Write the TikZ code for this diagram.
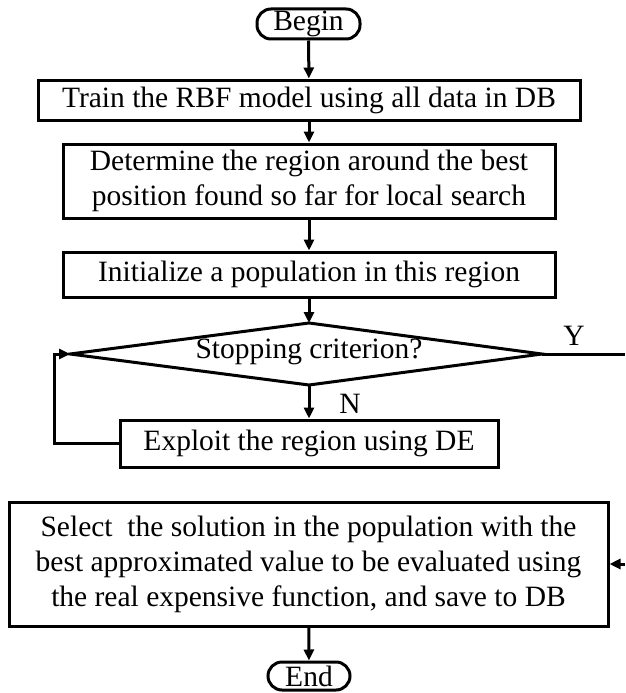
\documentclass[tikz,border=0pt]{standalone}
\usepackage{fontspec}
\setmainfont{Liberation Serif}
\usetikzlibrary{arrows.meta}
\begin{document}
\begin{tikzpicture}[x=1pt,y=-1pt,
  every node/.style={font=\fontsize{29.5}{35}\selectfont},
  box/.style={draw,line width=3pt,inner sep=0pt,align=center},
  term/.style={draw,line width=3pt,inner sep=0pt,rounded corners=14pt},
  conn/.style={line width=3pt},
  arr/.style={conn,-{Triangle[length=11pt,width=10pt]}}]
\useasboundingbox (0,0) rectangle (625,693);
\node[term,minimum width=103pt,minimum height=30pt] (begin) at (308.5,24) {Begin};
\node[box,minimum width=542pt,minimum height=40pt] (b1) at (309,100) {Train the RBF model using all data in DB};
\node[box,minimum width=492pt,minimum height=74pt] (b2) at (309,181) {Determine the region around the best\\position found so far for local search};
\node[box,minimum width=492pt,minimum height=45pt] (b3) at (309,274.5) {Initialize a population in this region};
\coordinate (dt) at (309,323);
\coordinate (dr) at (542,354);
\coordinate (db) at (309,385);
\coordinate (dl) at (70,354);
\draw[conn,line join=miter] (dt) -- (dr) -- (db) -- (dl) -- cycle;
\node (dtext) at (309,352) {Stopping criterion?};
\node (ylab) at (574,336) {Y};
\node (nlab) at (350,404) {N};
\node[box,minimum width=378pt,minimum height=47pt] (b4) at (309,443.5) {Exploit the region using DE};
\node[box,minimum width=599pt,minimum height=124pt] (b5) at (308.5,564) {Select\ \ the solution in the population with the\\best approximated value to be evaluated using\\the real expensive function, and save to DB};
\node[term,minimum width=82pt,minimum height=28pt] (end) at (309,676) {End};
\coordinate (yend) at (625,354);
\coordinate (rin) at (625,564);
\coordinate (lp) at (54,443.5);
\draw[arr] (begin) -- (b1);
\draw[arr] (b1) -- (b2);
\draw[arr] (b2) -- (b3);
\draw[arr] (b3) -- (dt);
\draw[arr] (db) -- (b4);
\draw[conn] (dr) -- (yend);
\draw[arr] (b4.west) -- (lp) |- (dl);
\draw[arr] (rin) -- (b5.east);
\draw[arr] (b5) -- (end);
\end{tikzpicture}
\end{document}
